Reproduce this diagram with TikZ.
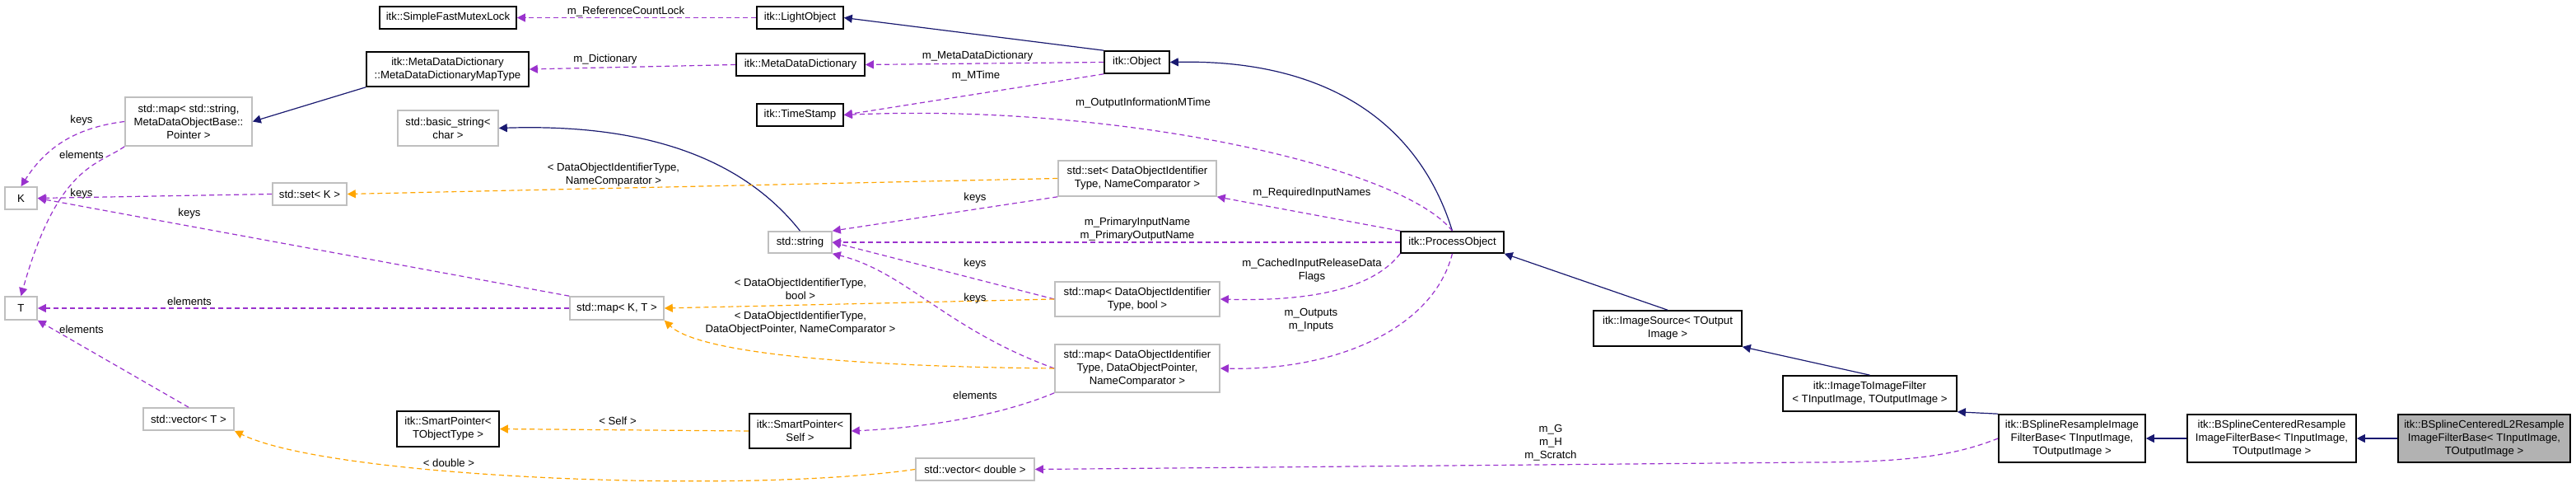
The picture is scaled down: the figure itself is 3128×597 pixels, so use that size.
\documentclass[tikz,border=0pt]{standalone}
\usepackage{fontspec}
\setmainfont{Liberation Sans}
\usetikzlibrary{arrows.meta}
\definecolor{navy}{HTML}{191970}
\definecolor{purp}{HTML}{9A32CD}
\definecolor{orng}{HTML}{FFA500}
\newcommand{\bx}[7]{\node[#7, minimum width={(#4-#2)*0.5pt}, minimum height={(#5-#3)*0.5pt}] (#1) at ({(#2+#4)/2},{(#3+#5)/2}) {#6};}
\begin{document}
\begin{tikzpicture}[x=0.5pt,y=-0.5pt,
  font=\fontsize{6.6}{8}\selectfont,
  box/.style={draw=black, line width=0.8pt, inner sep=1pt, align=center, fill=white},
  gbox/.style={draw=black!25, line width=0.8pt, inner sep=1pt, align=center, fill=white},
  hbox/.style={draw=black, line width=0.8pt, inner sep=1pt, align=center, fill=black!30},
  inh/.style={draw=navy, line width=0.6pt, -{Triangle[length=5pt,width=5pt]}},
  mem/.style={draw=purp, line width=0.6pt, dashed, dash pattern=on 3pt off 2pt, -{Triangle[length=5pt,width=5pt]}},
  tpl/.style={draw=orng, line width=0.6pt, dashed, dash pattern=on 3pt off 2pt, -{Triangle[length=5pt,width=5pt]}},
  lbl/.style={align=center, inner sep=0pt}]
\useasboundingbox (0,0) rectangle (3128,597);
% nodes
\bx{sfml}{461}{8}{627}{35}{itk::SimpleFastMutexLock}{box}
\bx{mdmt}{445}{63}{642}{105}{itk::MetaDataDictionary\\::MetaDataDictionaryMapType}{box}
\bx{mapstr}{152}{118}{306}{177}{std::map< std::string,\\MetaDataObjectBase::\\Pointer >}{gbox}
\bx{bstr}{483}{134}{605}{177}{std::basic\_string<\\char >}{gbox}
\bx{setK}{331}{222}{421}{249}{std::set< K >}{gbox}
\bx{K}{6}{227}{45}{254}{K}{gbox}
\bx{T}{6}{360}{45}{388}{T}{gbox}
\bx{mapKT}{692}{360}{806}{388}{std::map< K, T >}{gbox}
\bx{vecT}{174}{495}{284}{522}{std::vector< T >}{gbox}
\bx{spT}{482}{499}{606}{542}{itk::SmartPointer<\\TObjectType >}{box}
\bx{lo}{919}{8}{1024}{35}{itk::LightObject}{box}
\bx{mdd}{894}{65}{1050}{92}{itk::MetaDataDictionary}{box}
\bx{obj}{1341}{62}{1420}{89}{itk::Object}{box}
\bx{ts}{919}{126}{1024}{153}{itk::TimeStamp}{box}
\bx{setD}{1285}{195}{1477}{238}{std::set< DataObjectIdentifier\\Type, NameComparator >}{gbox}
\bx{str}{933}{281}{1010}{307}{std::string}{gbox}
\bx{po}{1701}{281}{1826}{307}{itk::ProcessObject}{box}
\bx{mapB}{1281}{342}{1481}{384}{std::map< DataObjectIdentifier\\Type, bool >}{gbox}
\bx{mapP}{1281}{418}{1481}{476}{std::map< DataObjectIdentifier\\Type, DataObjectPointer,\\NameComparator >}{gbox}
\bx{spS}{910}{502}{1033}{544}{itk::SmartPointer<\\Self >}{box}
\bx{vecD}{1112}{556}{1256}{583}{std::vector< double >}{gbox}
\bx{is}{1935}{377}{2115}{420}{itk::ImageSource< TOutput\\Image >}{box}
\bx{itif}{2165}{456}{2376}{499}{itk::ImageToImageFilter\\< TInputImage, TOutputImage >}{box}
\bx{bsr}{2427}{503}{2605}{561}{itk::BSplineResampleImage\\FilterBase< TInputImage,\\TOutputImage >}{box}
\bx{bsc}{2656}{503}{2861}{561}{itk::BSplineCenteredResample\\ImageFilterBase< TInputImage,\\TOutputImage >}{box}
\bx{bsl}{2912}{503}{3121}{561}{itk::BSplineCenteredL2Resample\\ImageFilterBase< TInputImage,\\TOutputImage >}{hbox}
% inheritance
\draw[inh] (obj.north west) -- (lo.east);
\draw[inh] (po.north) .. controls (1720,140) and (1600,72) .. (obj.east);
\draw[inh] (mdmt.south west) -- (mapstr.east);
\draw[inh] (str.north) .. controls (900,190) and (780,150) .. (bstr.east);
\draw[inh] (is.north) -- (po.south east);
\draw[inh] (itif.north) -- (is.south east);
\draw[inh] (bsr.north west) -- (itif.south east);
\draw[inh] (bsc.west) -- (bsr.east);
\draw[inh] (bsl.west) -- (bsc.east);
% members
\draw[mem] (lo.west) -- (sfml.east);
\draw[mem] (obj.west) -- (mdd.east);
\draw[mem] (mdd.west) -- (mdmt.east);
\draw[mem] (obj.south west) -- (ts.east);
\draw[mem] (po.north) .. controls (1700,200) and (1350,125) .. (ts.east);
\draw[mem] (po.north west) -- (setD.south east);
\draw[mem] (po.west) -- (str.east);
\draw[mem] (po.south west) .. controls (1660,360) and (1560,365) .. (mapB.east);
\draw[mem] (po.south) .. controls (1740,400) and (1620,450) .. (mapP.east);
\draw[mem] (bsr.west) .. controls (2380,550) and (2330,561) .. (2200,561) -- (vecD.east);
\draw[mem] (setD.south west) -- (str.north east);
\draw[mem] (mapB.west) -- (str.east);
\draw[mem] (mapP.west) .. controls (1150,400) and (1100,330) .. (str.south east);
\draw[mem] (mapP.south west) .. controls (1200,510) and (1100,520) .. (spS.east);
\draw[mem] (mapstr.west) .. controls (90,155) and (55,180) .. (K.north);
\draw[mem] (mapstr.south west) .. controls (120,200) and (70,200) .. (T.north);
\draw[mem] (setK.west) -- (K.east);
\draw[mem] (mapKT.north west) -- (K.east);
\draw[mem] (mapKT.west) -- (T.east);
\draw[mem] (vecT.north) -- (T.south east);
% templates
\draw[tpl] (setD.west) -- (setK.east);
\draw[tpl] (mapB.west) -- (mapKT.east);
\draw[tpl] (mapP.west) .. controls (1050,445) and (850,430) .. (mapKT.south east);
\draw[tpl] (spS.west) -- (spT.east);
\draw[tpl] (vecD.west) .. controls (900,600) and (400,580) .. (vecT.south east);
% labels
\node[lbl] (l1) at (760,14) {m\_ReferenceCountLock};
\node[lbl] (l2) at (1187,68) {m\_MetaDataDictionary};
\node[lbl] (l3) at (735,72) {m\_Dictionary};
\node[lbl] (l4) at (1185,92) {m\_MTime};
\node[lbl] (l5) at (1388,125) {m\_OutputInformationMTime};
\node[lbl] (l6) at (1593,234) {m\_RequiredInputNames};
\node[lbl] (l7) at (1381,278) {m\_PrimaryInputName\\m\_PrimaryOutputName};
\node[lbl] (l8) at (1593,328) {m\_CachedInputReleaseData\\Flags};
\node[lbl] (l9) at (1592,388) {m\_Outputs\\m\_Inputs};
\node[lbl] (l10) at (1883,537) {m\_G\\m\_H\\m\_Scratch};
\node[lbl] (l11) at (1184,240) {keys};
\node[lbl] (l12) at (1184,320) {keys};
\node[lbl] (l13) at (1184,362) {keys};
\node[lbl] (l14) at (1184,480) {elements};
\node[lbl] (l15) at (99,146) {keys};
\node[lbl] (l16) at (99,188) {elements};
\node[lbl] (l17) at (99,235) {keys};
\node[lbl] (l18) at (230,259) {keys};
\node[lbl] (l19) at (230,366) {elements};
\node[lbl] (l20) at (99,400) {elements};
\node[lbl] (l21) at (745,212) {< DataObjectIdentifierType,\\NameComparator >};
\node[lbl] (l22) at (972,351) {< DataObjectIdentifierType,\\bool >};
\node[lbl] (l23) at (972,392) {< DataObjectIdentifierType,\\DataObjectPointer, NameComparator >};
\node[lbl] (l24) at (750,511) {< Self >};
\node[lbl] (l25) at (545,562) {< double >};
\end{tikzpicture}
\end{document}
